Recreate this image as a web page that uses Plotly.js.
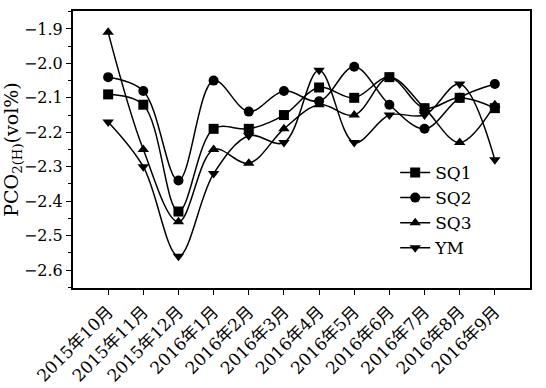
<!DOCTYPE html>
<html><head><meta charset="utf-8">
<script src="https://cdn.plot.ly/plotly-3.0.1.min.js"></script>
<style>html,body{margin:0;padding:0;background:#fff}#c{width:546px;height:388px}</style>
</head><body><div id="c"></div>
<script>
const months = ["2015年10月","2015年11月","2015年12月","2016年1月","2016年2月","2016年3月","2016年4月","2016年5月","2016年6月","2016年7月","2016年8月","2016年9月"];
const SQ1 = [-2.09,-2.12,-2.43,-2.19,-2.19,-2.15,-2.07,-2.10,-2.04,-2.13,-2.10,-2.13];
const SQ2 = [-2.04,-2.08,-2.34,-2.05,-2.14,-2.08,-2.11,-2.01,-2.12,-2.19,-2.10,-2.06];
const SQ3 = [-1.91,-2.25,-2.46,-2.25,-2.29,-2.19,-2.12,-2.15,-2.04,-2.13,-2.23,-2.12];
const YM  = [-2.17,-2.30,-2.56,-2.32,-2.21,-2.23,-2.02,-2.23,-2.15,-2.15,-2.06,-2.28];
const names = ["SQ1","SQ2","SQ3","YM"];
const symbols = ["square","circle","triangle-up","triangle-down"];
const series = [SQ1,SQ2,SQ3,YM];
const xi = months.map((m,i)=>i);
const font = "DejaVu Serif, Noto Sans CJK SC, serif";
const traces = series.map((s,k)=>({
  x: xi, y: s, name: names[k], type:"scatter", mode:"lines+markers",
  line:{color:"#000", width:1.5, shape:"spline", smoothing:1},
  marker:{symbol:symbols[k], size:10, color:"#000"}
}));
const layout = {
  width:546, height:388,
  margin:{l:73, r:16, t:11, b:100},
  paper_bgcolor:"#fff", plot_bgcolor:"#fff",
  font:{family:font, color:"#000", size:16},
  showlegend:true,
  legend:{x:0.705, y:0.28, xanchor:"left", yanchor:"middle", bgcolor:"rgba(0,0,0,0)",
          font:{size:17, family:font}, tracegroupgap:0, itemwidth:30},
  xaxis:{range:[-1,12], tickmode:"array", tickvals:xi, ticktext:months, tickangle:-45,
         showgrid:false, zeroline:false, showline:true, linecolor:"#000", linewidth:2,
         mirror:true, ticks:"outside", ticklen:5, tickcolor:"#000", tickwidth:1,
         tickfont:{size:17, family:font}},
  yaxis:{range:[-2.652,-1.848], dtick:0.1, tick0:-1.9, tickformat:".1f",
         showgrid:false, zeroline:false, showline:true, linecolor:"#000", linewidth:2,
         mirror:true, ticks:"outside", ticklen:5, tickcolor:"#000", tickwidth:1,
         tickfont:{size:16, family:font},
         minor:{dtick:0.05, ticks:"outside", ticklen:3, tickcolor:"#000", showgrid:false},
         title:{text:"PCO<sub>2(H)</sub>(vol%)", font:{size:19, family:font}, standoff:3}}
};
Plotly.newPlot("c", traces, layout, {displayModeBar:false, staticPlot:true});
</script></body></html>
